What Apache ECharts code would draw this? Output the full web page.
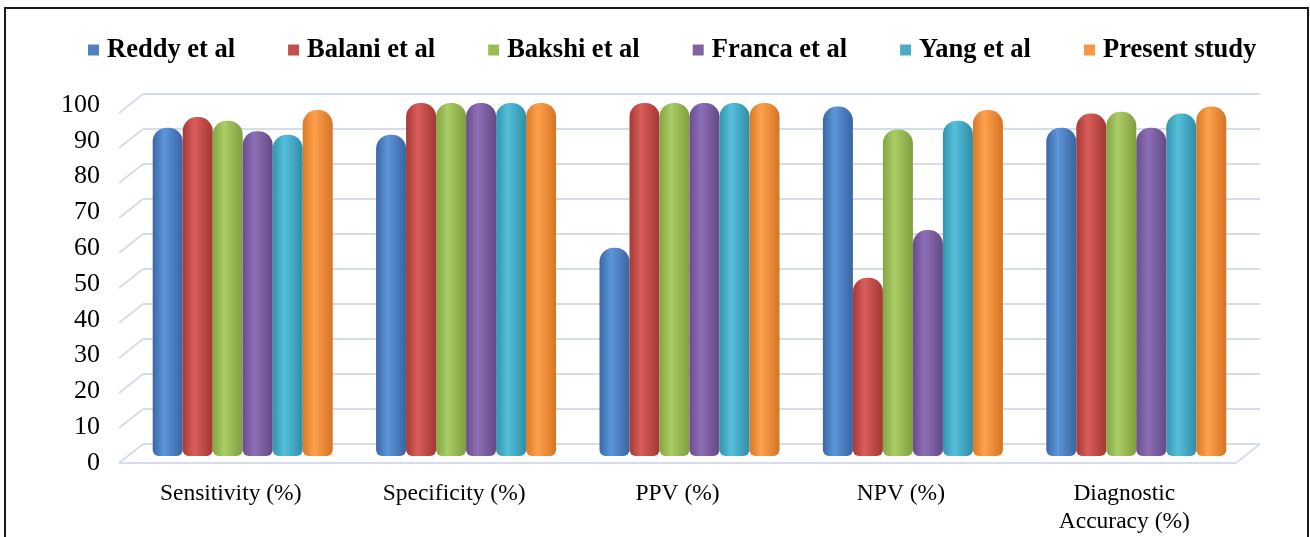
<!DOCTYPE html>
<html>
<head>
<meta charset="utf-8">
<script src="https://cdn.jsdelivr.net/npm/echarts@6/dist/echarts.min.js"></script>
<style>
html,body{margin:0;padding:0;background:#fff;overflow:hidden;}
#chart{position:absolute;left:0;top:0;width:1310px;height:537px;}
#frame{position:absolute;left:4px;top:7px;width:1301px;height:560px;border:2px solid #1a1a1a;pointer-events:none;}
</style>
</head>
<body>
<div id="chart"></div>
<div id="frame"></div>
<script>
const categories = ['Sensitivity (%)', 'Specificity (%)', 'PPV (%)', 'NPV (%)', 'Diagnostic\nAccuracy (%)'];
const seriesNames = ['Reddy et al', 'Balani et al', 'Bakshi et al', 'Franca et al', 'Yang et al', 'Present study'];
const reddy   = [93, 91, 59, 99, 93];
const balani  = [96, 100, 100, 50.5, 97];
const bakshi  = [95, 100, 100, 92.5, 97.5];
const franca  = [92, 100, 100, 64, 93];
const yang    = [91, 100, 100, 95, 97];
const present = [98, 100, 100, 98, 99];
const yTicks = [0, 10, 20, 30, 40, 50, 60, 70, 80, 90, 100];

const values = [reddy, balani, bakshi, franca, yang, present];
const shades = [
  ['#3A67A5', '#5D96DA', '#3A64A0', '#4F81BD'],
  ['#A63936', '#D95E5A', '#A33633', '#C0504D'],
  ['#84A544', '#AACD64', '#7F9E41', '#9BBB59'],
  ['#684D8A', '#8E6FB7', '#634985', '#8064A2'],
  ['#3394AD', '#55BFDB', '#2F8DA6', '#4BACC6'],
  ['#D97828', '#FFA04C', '#D47526', '#F79646']
];
function grad(s) {
  return new echarts.graphic.LinearGradient(0, 0, 1, 0, [
    {offset: 0, color: s[0]}, {offset: 0.38, color: s[1]}, {offset: 1, color: s[2]}
  ]);
}
const serif = "'Liberation Serif', 'Times New Roman', serif";
const wallColor = '#D6DCE8';

const chart = echarts.init(document.getElementById('chart'), null, {renderer: 'canvas'});

const barSeries = seriesNames.map((name, i) => ({
  name: name,
  type: 'bar',
  xAxisIndex: 0,
  yAxisIndex: 0,
  data: values[i],
  barWidth: 30,
  barGap: '0%',
  z: 5,
  itemStyle: {color: grad(shades[i]), borderRadius: [14, 14, 6, 6]}
}));

const wallSeries = {
  type: 'custom',
  xAxisIndex: 1,
  yAxisIndex: 1,
  z: 1,
  clip: false,
  silent: true,
  data: yTicks.map(v => [0, v]),
  renderItem: function (params, api) {
    const v = api.value(1);
    const p = api.coord([0, v]);
    const q = api.coord([1, v]);
    const dx = -24, dy = 19;
    const st = {stroke: wallColor, lineWidth: 2};
    const children = [
      {type: 'line', shape: {x1: p[0], y1: p[1], x2: q[0], y2: q[1]}, style: st},
      {type: 'line', shape: {x1: p[0] + dx, y1: p[1] + dy, x2: p[0], y2: p[1]}, style: st}
    ];
    if (v === 0) {
      children.push({type: 'line', shape: {x1: p[0] + dx, y1: p[1] + dy, x2: q[0] + dx, y2: q[1] + dy}, style: st});
      children.push({type: 'line', shape: {x1: q[0] + dx, y1: q[1] + dy, x2: q[0], y2: q[1]}, style: st});
    }
    return {type: 'group', children: children};
  }
};

chart.setOption({
  animation: false,
  backgroundColor: '#ffffff',
  legend: {
    data: seriesNames.map((n, i) => ({name: n, itemStyle: {color: shades[i][3]}})),
    left: 83,
    top: 31,
    itemGap: 53,
    itemWidth: 11,
    itemHeight: 11,
    icon: 'rect',
    textStyle: {fontFamily: serif, fontWeight: 'bold', fontSize: 26.5, color: '#000', lineHeight: 28, padding: [0, 0, 0, 3]}
  },
  grid: [
    {left: 131, right: 62, top: 103, bottom: 81},
    {left: 143, right: 50, top: 94, bottom: 93},
    {left: 100, width: 10, top: 105, bottom: 74}
  ],
  xAxis: [
    {
      type: 'category', gridIndex: 0, data: categories,
      axisLine: {show: false}, axisTick: {show: false},
      axisLabel: {interval: 0, fontFamily: serif, fontSize: 23.5, color: '#000', lineHeight: 28, margin: 24, padding: [0, 24, 0, 0]}
    },
    {type: 'value', gridIndex: 1, min: 0, max: 1, show: false},
    {type: 'value', gridIndex: 2, min: 0, max: 1, show: false}
  ],
  yAxis: [
    {type: 'value', gridIndex: 0, min: 0, max: 100, interval: 10, show: false},
    {type: 'value', gridIndex: 1, min: 0, max: 100, interval: 10, show: false},
    {
      type: 'value', gridIndex: 2, min: 0, max: 100, interval: 10,
      axisLine: {show: false}, axisTick: {show: false}, splitLine: {show: false},
      axisLabel: {fontFamily: serif, fontSize: 26, color: '#000', margin: 0}
    }
  ],
  series: [wallSeries].concat(barSeries)
});
</script>
</body>
</html>
